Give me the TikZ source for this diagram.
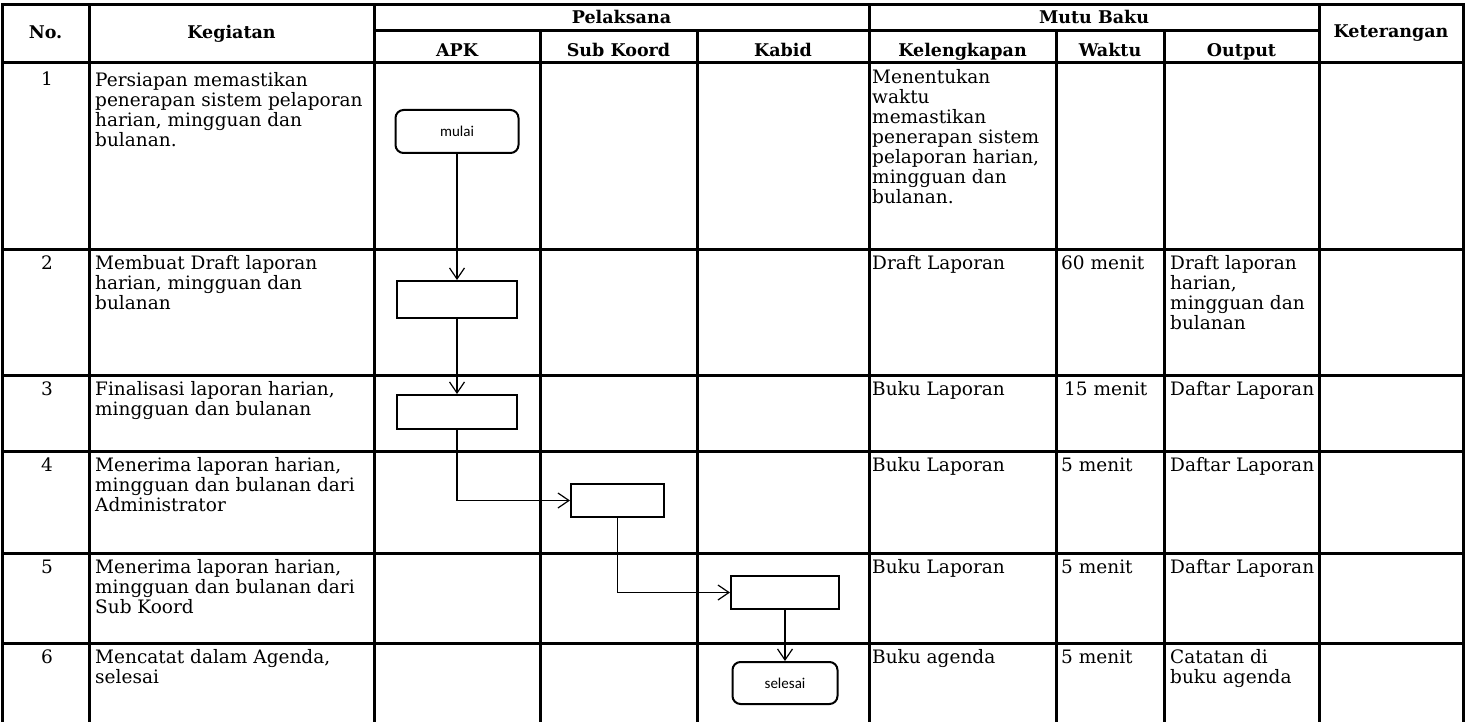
\documentclass[tikz,border=0pt]{standalone}
\usepackage{fontspec}
\setmainfont{DejaVu Serif}
\newfontfamily\flowfont{Carlito}
\usetikzlibrary{arrows.meta,positioning}

\begin{document}
\begin{tikzpicture}[x=1pt,y=-1pt,
  grid/.style={line width=3pt,line cap=rect},
  head/.style={font=\fontsize{17.5}{20}\selectfont\bfseries,inner sep=0pt,anchor=base},
  cell/.style={font=\fontsize{18.5}{20}\selectfont,inner sep=0pt,anchor=north west,
    align=left,execute at begin node=\strut},
  num/.style={font=\fontsize{18.5}{20}\selectfont,inner sep=0pt,anchor=base},
  proc/.style={draw,line width=2pt,minimum width=120pt,minimum height=37pt,inner sep=0pt},
  term/.style={proc,rounded corners=8pt,font=\flowfont\fontsize{15}{16}\selectfont},
  flow/.style={line width=1.2pt,-{Straight Barb[length=11pt,width=15pt,line width=1.2pt]}}
]
\useasboundingbox (0,0) rectangle (1471,722);

% the grid of the table
\draw[grid] (2,5) -- (1463,5);
\draw[grid] (374,31) -- (1319,31);
\foreach \y in {63,249,375,451,553,643}
  \draw[grid] (2,\y) -- (1463,\y);
\foreach \x in {2,89,374,869,1319,1463}
  \draw[grid] (\x,5) -- (\x,722);
\foreach \x in {540,697,1056,1164}
  \draw[grid] (\x,31) -- (\x,722);

% headings
\node[head] (hno) at (45.5,39) {No.};
\node[head] (hkeg) at (231.5,39) {Kegiatan};
\node[head] (hpel) at (621.5,24) {Pelaksana};
\node[head] (hmutu) at (1094,24) {Mutu Baku};
\node[head] (hket) at (1391,38) {Keterangan};
\node[head] (hapk) at (457,57) {APK};
\node[head] (hsub) at (618.5,57) {Sub Koord};
\node[head] (hkabid) at (783,57) {Kabid};
\node[head] (hlengkap) at (962.5,57) {Kelengkapan};
\node[head] (hwaktu) at (1110,57) {Waktu};
\node[head] (houtput) at (1241.5,57) {Output};

% row numbers
\foreach \i/\y in {1/86,2/269,3/395,4/471,5/573,6/663}
  \node[num] (no\i) at (47,\y) {\i};

% row 1
\node[cell] (keg1) at (95,72) {Persiapan memastikan\\penerapan sistem pelaporan\\harian, mingguan dan\\bulanan.};
\node[cell] (lengkap1) at (872,69) {Menentukan\\waktu\\memastikan\\penerapan sistem\\pelaporan harian,\\mingguan dan\\bulanan.};

% row 2
\node[cell] (keg2) at (95,255) {Membuat Draft laporan\\harian, mingguan dan\\bulanan};
\node[cell] (lengkap2) at (872,255) {Draft Laporan};
\node[cell] (waktu2) at (1061,255) {60 menit};
\node[cell] (output2) at (1170,255) {Draft laporan\\harian,\\mingguan dan\\bulanan};

% row 3
\node[cell] (keg3) at (95,381) {Finalisasi laporan harian,\\mingguan dan bulanan};
\node[cell] (lengkap3) at (872,381) {Buku Laporan};
\node[cell] (waktu3) at (1064,381) {15 menit};
\node[cell] (output3) at (1170,381) {Daftar Laporan};

% row 4
\node[cell] (keg4) at (95,457) {Menerima laporan harian,\\mingguan dan bulanan dari\\Administrator};
\node[cell] (lengkap4) at (872,457) {Buku Laporan};
\node[cell] (waktu4) at (1061,457) {5 menit};
\node[cell] (output4) at (1170,457) {Daftar Laporan};

% row 5
\node[cell] (keg5) at (95,559) {Menerima laporan harian,\\mingguan dan bulanan dari\\Sub Koord};
\node[cell] (lengkap5) at (872,559) {Buku Laporan};
\node[cell] (waktu5) at (1061,559) {5 menit};
\node[cell] (output5) at (1170,559) {Daftar Laporan};

% row 6
\node[cell] (keg6) at (95,649) {Mencatat dalam Agenda,\\selesai};
\node[cell] (lengkap6) at (872,649) {Buku agenda};
\node[cell] (waktu6) at (1061,649) {5 menit};
\node[cell] (output6) at (1170,649) {Catatan di\\buku agenda};

% the flow
\node[term,minimum width=123pt,minimum height=43pt] (mulai) at (457,131.5) {mulai};
\node[proc] (draft) at (457,299.5) {};
\node[proc,minimum height=34pt] (final) at (457,412) {};
\node[proc,minimum width=93pt,minimum height=33pt] (subk) at (617.5,500.5) {};
\node[proc,minimum width=108pt,minimum height=33pt] (kabid) at (785,592.5) {};
\node[term,minimum width=105pt,minimum height=42pt] (selesai) at (785,683) {selesai};

\draw[flow] (mulai) -- (draft);
\draw[flow] (draft) -- (final);
\draw[flow] (final.south) |- (subk.west);
\draw[flow] (subk.south) |- (kabid.west);
\draw[flow] (kabid) -- (selesai);
\end{tikzpicture}
\end{document}
